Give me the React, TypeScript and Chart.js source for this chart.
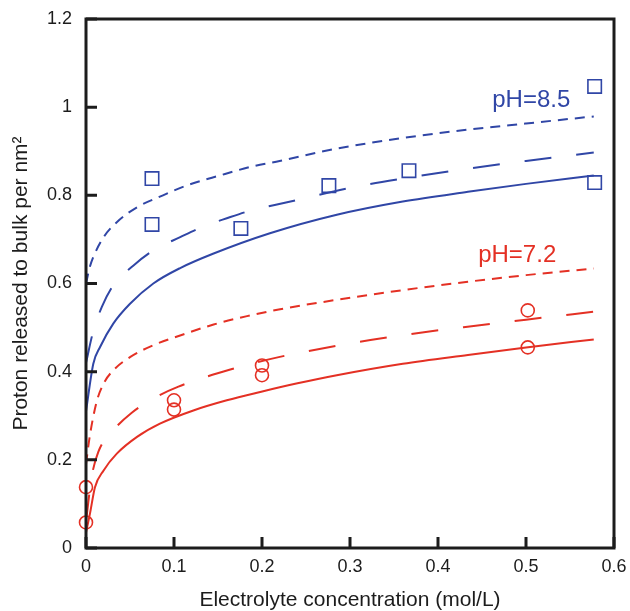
import React, { useEffect, useRef } from "react";
import { Chart, registerables } from "chart.js";
Chart.register(...registerables);

const FONT = '"Liberation Sans", Arial, Helvetica, sans-serif';
const BLUE = "rgb(48,70,166)";
const RED = "rgb(228,48,36)";
const INK = "#1c1c1c";

// Axis ticks
const xTickVals = [0, 0.1, 0.2, 0.3, 0.4, 0.5, 0.6];
const yTickVals = [0, 0.2, 0.4, 0.6, 0.8, 1.0, 1.2];

// Measured points, pH 8.5 (squares)
const bluePtsX = [0.075, 0.075, 0.176, 0.276, 0.367, 0.578, 0.578];
const bluePtsY = [0.838, 0.734, 0.725, 0.822, 0.856, 1.047, 0.829];

// Measured points, pH 7.2 (circles)
const redPtsX = [0, 0, 0.1, 0.1, 0.2, 0.2, 0.502, 0.502];
const redPtsY = [0.138, 0.058, 0.335, 0.314, 0.414, 0.392, 0.539, 0.455];

// Model curves, pH 8.5
const blueShortX = [0, 0.004, 0.0083, 0.02, 0.035, 0.058, 0.084, 0.114, 0.152, 0.19, 0.22, 0.285, 0.36, 0.434, 0.5, 0.577];
const blueShortY = [0.6, 0.635, 0.66, 0.705, 0.739, 0.773, 0.797, 0.822, 0.845, 0.866, 0.878, 0.906, 0.93, 0.949, 0.963, 0.979];
const blueLongX = [0, 0.008, 0.018, 0.031, 0.054, 0.0765, 0.107, 0.133, 0.16, 0.19, 0.217, 0.308, 0.366, 0.425, 0.5, 0.577];
const blueLongY = [0.42, 0.49, 0.547, 0.596, 0.641, 0.675, 0.705, 0.729, 0.748, 0.767, 0.779, 0.82, 0.84, 0.858, 0.878, 0.897];
const blueSolidX = [0, 0.0083, 0.016, 0.031, 0.05, 0.0765, 0.107, 0.145, 0.209, 0.285, 0.36, 0.434, 0.5, 0.577];
const blueSolidY = [0.31, 0.418, 0.456, 0.509, 0.554, 0.6, 0.635, 0.668, 0.714, 0.756, 0.786, 0.808, 0.826, 0.845];

// Model curves, pH 7.2
const redShortX = [0, 0.004, 0.012, 0.02, 0.031, 0.05, 0.0765, 0.107, 0.145, 0.183, 0.219, 0.285, 0.36, 0.434, 0.5, 0.577];
const redShortY = [0.19, 0.25, 0.331, 0.373, 0.403, 0.433, 0.46, 0.482, 0.507, 0.526, 0.541, 0.563, 0.585, 0.604, 0.619, 0.634];
const redLongX = [0, 0.0064, 0.014, 0.031, 0.052, 0.0765, 0.105, 0.164, 0.219, 0.309, 0.368, 0.429, 0.5, 0.577];
const redLongY = [0.06, 0.161, 0.218, 0.267, 0.307, 0.339, 0.366, 0.405, 0.433, 0.467, 0.485, 0.501, 0.518, 0.536];
const redSolidX = [0, 0.0045, 0.0102, 0.02, 0.035, 0.058, 0.084, 0.122, 0.16, 0.198, 0.239, 0.285, 0.36, 0.434, 0.5, 0.577];
const redSolidY = [0.035, 0.078, 0.138, 0.176, 0.214, 0.252, 0.282, 0.312, 0.335, 0.354, 0.373, 0.392, 0.418, 0.438, 0.455, 0.473];

// In-plot labels
const labelTexts = ["pH=8.5", "pH=7.2"];
const labelX = [0.506, 0.49];
const labelY = [1.015, 0.664];
const labelColors = [BLUE, RED];

const pts = (xs: number[], ys: number[]) => xs.map((x, i) => ({ x, y: ys[i] }));

const curve = (xs: number[], ys: number[], color: string, dash: number[]) => ({
  data: pts(xs, ys),
  showLine: true,
  borderColor: color,
  borderWidth: 2,
  borderDash: dash,
  pointRadius: 0,
  cubicInterpolationMode: "monotone" as const,
  fill: false,
});

const SHORT = [10, 7];
const LONG = [27, 25];

const fmt = (v: number) => String(parseFloat(Number(v).toFixed(1)));

const noPad = (s: any) => {
  s.paddingLeft = 0;
  s.paddingRight = 0;
  s.paddingTop = 0;
  s.paddingBottom = 0;
};

const framePlugin = {
  id: "frame",
  afterDraw(chart: any) {
    const { ctx, chartArea: a, scales } = chart;
    const x = scales.x;
    const y = scales.y;
    ctx.save();
    ctx.strokeStyle = INK;
    ctx.lineWidth = 3;
    ctx.beginPath();
    for (const v of xTickVals) {
      const px = x.getPixelForValue(v);
      ctx.moveTo(px, a.bottom);
      ctx.lineTo(px, a.bottom - 11);
    }
    for (const v of yTickVals) {
      const py = y.getPixelForValue(v);
      ctx.moveTo(a.left, py);
      ctx.lineTo(a.left + 11, py);
    }
    ctx.stroke();
    ctx.strokeRect(a.left, a.top, a.right - a.left, a.bottom - a.top);
    ctx.font = `24px ${FONT}`;
    ctx.textAlign = "center";
    ctx.textBaseline = "middle";
    labelTexts.forEach((t, i) => {
      ctx.fillStyle = labelColors[i];
      ctx.fillText(t, x.getPixelForValue(labelX[i]), y.getPixelForValue(labelY[i]));
    });
    ctx.restore();
  },
};

export default function App() {
  const ref = useRef<HTMLCanvasElement>(null);
  useEffect(() => {
    const chart = new Chart(ref.current as HTMLCanvasElement, {
      type: "scatter",
      data: {
        datasets: [
          curve(blueShortX, blueShortY, BLUE, SHORT),
          curve(blueLongX, blueLongY, BLUE, LONG),
          curve(blueSolidX, blueSolidY, BLUE, []),
          curve(redShortX, redShortY, RED, SHORT),
          curve(redLongX, redLongY, RED, LONG),
          curve(redSolidX, redSolidY, RED, []),
          {
            data: pts(bluePtsX, bluePtsY),
            showLine: false,
            pointStyle: "rect",
            pointRadius: 9.5,
            pointBorderWidth: 1.6,
            pointBorderColor: BLUE,
            pointBackgroundColor: "rgba(0,0,0,0)",
            clip: false,
          } as any,
          {
            data: pts(redPtsX, redPtsY),
            showLine: false,
            pointStyle: "circle",
            pointRadius: 6.5,
            pointBorderWidth: 1.6,
            pointBorderColor: RED,
            pointBackgroundColor: "rgba(0,0,0,0)",
            clip: false,
          } as any,
        ] as any,
      },
      options: {
        responsive: false,
        animation: false,
        devicePixelRatio: 1,
        layout: { padding: { top: 19, right: 16, left: 0, bottom: 0 } },
        plugins: { legend: { display: false }, tooltip: { enabled: false } },
        scales: {
          x: {
            type: "linear",
            min: 0,
            max: 0.6,
            afterBuildTicks: (s: any) => {
              s.ticks = xTickVals.map((v) => ({ value: v }));
            },
            afterFit: (s: any) => {
              s.height = 63;
              noPad(s);
            },
            grid: { display: false, drawTicks: false },
            border: { display: false },
            ticks: {
              padding: 8,
              color: INK,
              font: { family: FONT, size: 18 },
              maxRotation: 0,
              callback: (v: any) => fmt(v),
            },
            title: {
              display: true,
              text: "Electrolyte concentration (mol/L)",
              color: INK,
              font: { family: FONT, size: 21 },
              padding: { top: 0, bottom: -2 },
            },
          },
          y: {
            type: "linear",
            min: 0,
            max: 1.2,
            afterBuildTicks: (s: any) => {
              s.ticks = yTickVals.map((v) => ({ value: v }));
            },
            afterFit: (s: any) => {
              s.width = 86;
              noPad(s);
            },
            grid: { display: false, drawTicks: false },
            border: { display: false },
            ticks: {
              padding: 14,
              color: INK,
              font: { family: FONT, size: 18 },
              callback: (v: any) => fmt(v),
            },
            title: {
              display: true,
              text: "Proton released to bulk per nm²",
              color: INK,
              font: { family: FONT, size: 21 },
              padding: { top: 9, bottom: 0 },
            },
          },
        },
      } as any,
      plugins: [framePlugin],
    });
    return () => chart.destroy();
  }, []);
  return (
    <div style={{ position: "fixed", left: 0, top: 0, width: 630, height: 611, background: "#fff" }}>
      <canvas ref={ref} width={630} height={611} style={{ display: "block" }} />
    </div>
  );
}
